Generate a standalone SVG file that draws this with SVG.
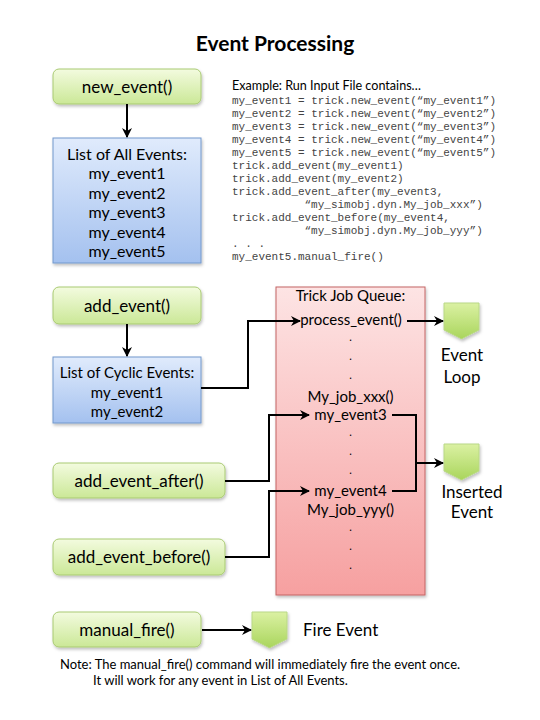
<svg xmlns="http://www.w3.org/2000/svg" width="540" height="720" viewBox="0 0 540 720">
<defs>
<linearGradient id="gGreen" x1="0" y1="0" x2="0" y2="1"><stop offset="0" stop-color="#f3fbdf"/><stop offset="1" stop-color="#cbe897"/></linearGradient>
<linearGradient id="gBlue" x1="0" y1="0" x2="0" y2="1"><stop offset="0" stop-color="#e0ebfc"/><stop offset="1" stop-color="#a4c1ef"/></linearGradient>
<linearGradient id="gPink" x1="0" y1="0" x2="0" y2="1"><stop offset="0" stop-color="#fde4e4"/><stop offset="1" stop-color="#f6a0a0"/></linearGradient>
<linearGradient id="gPent" x1="0" y1="0" x2="0" y2="1"><stop offset="0" stop-color="#dbf1a3"/><stop offset="1" stop-color="#a9d55c"/></linearGradient>
<filter id="sh" x="-10%" y="-10%" width="130%" height="130%"><feDropShadow dx="1" dy="2" stdDeviation="1.5" flood-color="#000" flood-opacity="0.25"/></filter>
<marker id="ah" viewBox="0 0 10 10" refX="9" refY="5" markerWidth="10" markerHeight="10" markerUnits="userSpaceOnUse" orient="auto"><path d="M0,0 L10,5 L0,10 L3,5 Z" fill="#000"/></marker>
</defs>
<style>
.t{font-family:Lato,"Liberation Sans",sans-serif;fill:#000;text-anchor:middle}
.gb{fill:url(#gGreen);stroke:#a9ca72;stroke-width:1;filter:url(#sh)}
.bb{fill:url(#gBlue);stroke:#7398cc;stroke-width:1;filter:url(#sh)}
.pk{fill:url(#gPink);stroke:#c46464;stroke-width:1;filter:url(#sh)}
.pt{fill:url(#gPent);stroke:#b9d886;stroke-width:1;filter:url(#sh)}
.code{font-family:"Liberation Mono",monospace;font-size:11px;fill:#444}
.c{fill:none;stroke:#000;stroke-width:2}
.ca{fill:none;stroke:#000;stroke-width:2;marker-end:url(#ah)}
.dot{font-size:11px}
</style>
<rect width="540" height="720" fill="#fff"/>
<text class="t" x="275" y="51" style="font-size:21px;font-weight:bold">Event Processing</text>

<g id="new_event">
<rect class="gb" x="53" y="69" width="148" height="35" rx="6"/>
<text class="t" x="127" y="93" style="font-size:17px">new_event()</text>
</g>
<g id="all_events">
<rect class="bb" x="53" y="138" width="148" height="125"/>
<text class="t" x="127" y="159.5" style="font-size:16px">List of All Events:</text>
<text class="t" x="127" y="179" style="font-size:16px">my_event1</text>
<text class="t" x="127" y="198.5" style="font-size:16px">my_event2</text>
<text class="t" x="127" y="218" style="font-size:16px">my_event3</text>
<text class="t" x="127" y="237.5" style="font-size:16px">my_event4</text>
<text class="t" x="127" y="257" style="font-size:16px">my_event5</text>
</g>
<g id="example">
<text x="232" y="89.5" style="font-family:Lato,'Liberation Sans',sans-serif;font-size:12.6px;fill:#000">Example: Run Input File contains…</text>
<text class="code" x="232" y="103.5">my_event1 = trick.new_event(“my_event1”)</text>
<text class="code" x="232" y="116.5">my_event2 = trick.new_event(“my_event2”)</text>
<text class="code" x="232" y="129.5">my_event3 = trick.new_event(“my_event3”)</text>
<text class="code" x="232" y="142.5">my_event4 = trick.new_event(“my_event4”)</text>
<text class="code" x="232" y="155.5">my_event5 = trick.new_event(“my_event5”)</text>
<text class="code" x="232" y="168.5">trick.add_event(my_event1)</text>
<text class="code" x="232" y="181.5">trick.add_event(my_event2)</text>
<text class="code" x="232" y="194.5">trick.add_event_after(my_event3,</text>
<text class="code" x="304.5" y="207.5">“my_simobj.dyn.My_job_xxx”)</text>
<text class="code" x="232" y="220.5">trick.add_event_before(my_event4,</text>
<text class="code" x="304.5" y="233.5">“my_simobj.dyn.My_job_yyy”)</text>
<text class="code" x="232" y="246.5">. . .</text>
<text class="code" x="232" y="259.5">my_event5.manual_fire()</text>
</g>

<g id="add_event">
<rect class="gb" x="53" y="287" width="148" height="37" rx="6"/>
<text class="t" x="127" y="311.5" style="font-size:17px">add_event()</text>
</g>
<g id="cyclic_events">
<rect class="bb" x="53" y="357" width="148" height="66"/>
<text class="t" x="127" y="378" style="font-size:15px">List of Cyclic Events:</text>
<text class="t" x="127" y="398" style="font-size:15px">my_event1</text>
<text class="t" x="127" y="417" style="font-size:15px">my_event2</text>
</g>
<g id="add_event_after">
<rect class="gb" x="53" y="463" width="172" height="35" rx="6"/>
<text class="t" x="139" y="486.5" style="font-size:17px">add_event_after()</text>
</g>
<g id="add_event_before">
<rect class="gb" x="53" y="539" width="172" height="36" rx="6"/>
<text class="t" x="139" y="563" style="font-size:17px">add_event_before()</text>
</g>

<g id="job_queue">
<rect class="pk" x="276" y="287" width="149" height="308"/>
<g class="t" style="font-size:15px">
<text x="350.5" y="301">Trick Job Queue:</text>
<text x="351" y="325">process_event()</text>
<text class="dot" x="350.5" y="341">.</text>
<text class="dot" x="350.5" y="360">.</text>
<text class="dot" x="350.5" y="379">.</text>
<text x="350.5" y="402">My_job_xxx()</text>
<text x="350.5" y="420">my_event3</text>
<text class="dot" x="350.5" y="436">.</text>
<text class="dot" x="350.5" y="455">.</text>
<text class="dot" x="350.5" y="474">.</text>
<text x="350.5" y="496">my_event4</text>
<text x="350.5" y="515">My_job_yyy()</text>
<text class="dot" x="350.5" y="531">.</text>
<text class="dot" x="350.5" y="550">.</text>
<text class="dot" x="350.5" y="569">.</text>
</g>
</g>

<g id="event_loop">
<path class="pt" d="M444,303 H479 V330 L461.5,339 L444,330 Z"/>
<text class="t" x="462" y="361" style="font-size:17px">Event</text>
<text class="t" x="462" y="383" style="font-size:17px">Loop</text>
</g>
<g id="inserted_event">
<path class="pt" d="M444,444 H479 V471 L461.5,480 L444,471 Z"/>
<text class="t" x="472" y="498" style="font-size:17px">Inserted</text>
<text class="t" x="472" y="518" style="font-size:17px">Event</text>
</g>

<g id="manual_fire">
<rect class="gb" x="53" y="612" width="148" height="35" rx="6"/>
<text class="t" x="127" y="635.5" style="font-size:17px">manual_fire()</text>
</g>
<g id="fire_event">
<path class="pt" d="M252,612 H287 V639 L269.5,648 L252,639 Z"/>
<text x="303" y="636" style="font-family:Lato,'Liberation Sans',sans-serif;font-size:17px;fill:#000">Fire Event</text>
</g>

<g id="note" style="font-family:Lato,'Liberation Sans',sans-serif;font-size:13px;fill:#000">
<text x="60" y="669">Note: The manual_fire() command will immediately fire the event once.</text>
<text x="93" y="685">It will work for any event in List of All Events.</text>
</g>

<g id="connectors">
<path class="ca" d="M127,104 V137"/>
<path class="ca" d="M127,324 V356"/>
<path class="ca" d="M201,388 H248 V321 H300"/>
<path class="ca" d="M407,321 H443"/>
<path class="ca" d="M225,481 H269 V415 H309"/>
<path class="ca" d="M225,557 H269 V491 H309"/>
<path class="c" d="M392,415 H416 V491 H392"/>
<path class="ca" d="M416,463 H443"/>
<path class="ca" d="M202,630 H251"/>
</g>
</svg>
